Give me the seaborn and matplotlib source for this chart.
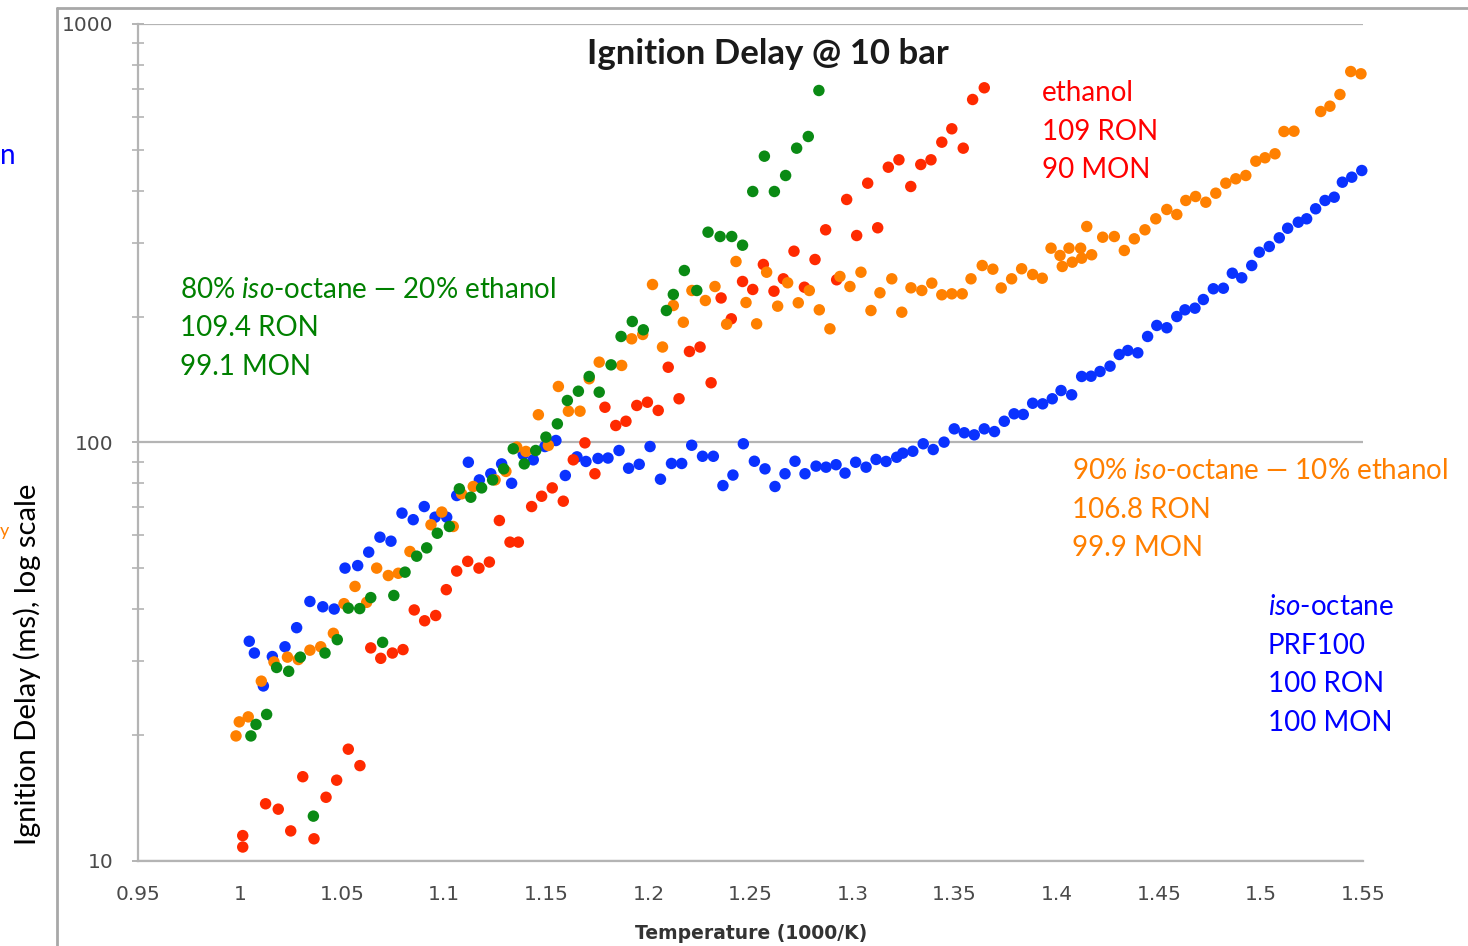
import matplotlib
matplotlib.use('Agg')
import matplotlib.pyplot as plt
import pandas as pd
import seaborn as sns
from matplotlib.lines import Line2D
from matplotlib.ticker import LogLocator, NullFormatter

# iso-octane (PRF100)
iso_temp = [1.0045, 1.007, 1.0114, 1.0158, 1.022, 1.0277, 1.0342, 1.0405, 1.0461, 1.0514,
            1.0576, 1.063, 1.0685, 1.0739, 1.0793, 1.0848, 1.0902, 1.0955, 1.1012, 1.1061,
            1.1118, 1.1172, 1.1228, 1.1281, 1.133, 1.1387, 1.1436, 1.1493, 1.1547, 1.1593,
            1.165, 1.1694, 1.1753, 1.1802, 1.1856, 1.1903, 1.1955, 1.2008, 1.2059, 1.2113,
            1.2163, 1.2212, 1.2265, 1.2318, 1.2365, 1.2414, 1.2465, 1.2519, 1.2571, 1.262,
            1.2669, 1.2718, 1.2767, 1.2821, 1.287, 1.2919, 1.2963, 1.3015, 1.3066, 1.3115,
            1.3164, 1.3216, 1.3246, 1.3295, 1.3346, 1.3395, 1.3448, 1.3498, 1.3547, 1.3596,
            1.3645, 1.3695, 1.3743, 1.3791, 1.3836, 1.3882, 1.3931, 1.3978, 1.4021, 1.4073,
            1.4122, 1.4168, 1.4212, 1.4261, 1.4306, 1.4348, 1.4397, 1.4445, 1.449, 1.4539,
            1.4588, 1.4628, 1.4677, 1.4718, 1.4767, 1.4816, 1.486, 1.4906, 1.4955, 1.4992,
            1.5041, 1.509, 1.5131, 1.5183, 1.5224, 1.5268, 1.5314, 1.5359, 1.5399, 1.5445,
            1.5494]
iso_delay = [33.5, 31.4, 26.2, 30.8, 32.5, 36.1, 41.7, 40.5, 40.0, 50.1,
             50.8, 54.7, 59.4, 58.1, 67.8, 65.4, 70.3, 66.3, 66.3, 74.7,
             89.7, 81.4, 84.2, 88.9, 79.9, 93.6, 90.9, 97.8, 101.1, 83.4,
             92.4, 90.1, 91.6, 91.8, 95.7, 86.8, 88.7, 97.8, 81.7, 89.1,
             89.1, 98.5, 92.7, 92.7, 78.9, 83.6, 99.3, 90.2, 86.5, 78.5,
             84.2, 90.2, 84.2, 87.8, 87.3, 88.5, 84.5, 89.7, 87.3, 91.1,
             90.1, 92.2, 94.3, 95.3, 99.3, 96.2, 100.2, 107.8, 105.5, 104.3,
             107.8, 106.2, 112.4, 117.1, 116.7, 124.1, 123.7, 127.2, 133.1, 130.0,
             143.8, 144.0, 147.8, 152.2, 162.3, 165.9, 163.8, 179.2, 190.4, 188.0,
             200.0, 207.5, 209.4, 219.6, 233.0, 233.7, 253.8, 247.5, 264.8, 284.9,
             294.0, 308.4, 325.1, 336.0, 342.4, 361.8, 378.7, 385.6, 418.8, 430.5,
             446.6]

# ethanol
eth_temp = [1.0013, 1.0013, 1.0125, 1.0187, 1.0248, 1.0307, 1.0362, 1.0421, 1.0473, 1.053,
            1.0587, 1.064, 1.0689, 1.0746, 1.0798, 1.0853, 1.0904, 1.0958, 1.101, 1.1061,
            1.1115, 1.117, 1.1221, 1.127, 1.1322, 1.1363, 1.1428, 1.1477, 1.1529, 1.1583,
            1.1632, 1.1689, 1.1738, 1.1787, 1.184, 1.189, 1.1943, 1.1995, 1.2048, 1.2097,
            1.215, 1.2201, 1.2253, 1.2307, 1.2356, 1.2406, 1.2461, 1.2511, 1.2563, 1.2615,
            1.2661, 1.2713, 1.2764, 1.2816, 1.2868, 1.2922, 1.2971, 1.302, 1.3074, 1.3123,
            1.3175, 1.3227, 1.3285, 1.3334, 1.3384, 1.3437, 1.3486, 1.3542, 1.3588, 1.3645]
eth_delay = [11.5, 10.8, 13.7, 13.3, 11.8, 15.9, 11.3, 14.2, 15.6, 18.5,
             16.9, 32.3, 30.5, 31.4, 32.0, 39.8, 37.5, 38.6, 44.5, 49.3,
             52.0, 50.1, 51.8, 65.1, 57.8, 57.8, 70.3, 74.4, 77.9, 72.4,
             90.9, 99.8, 84.2, 121.4, 109.8, 112.4, 122.6, 124.8, 119.3, 151.3,
             127.2, 165.0, 169.1, 138.9, 221.5, 197.5, 242.5, 232.1, 266.3, 229.9,
             246.1, 286.5, 235.0, 273.7, 322.3, 244.8, 380.8, 312.3, 416.5, 325.9,
             454.8, 473.7, 409.0, 461.6, 473.7, 521.9, 561.8, 505.0, 660.1, 704.0]

# 90% iso-octane - 10% ethanol
e10_temp = [0.998, 0.9996, 1.004, 1.0104, 1.0166, 1.0232, 1.0285, 1.0342, 1.0395, 1.0457,
            1.0509, 1.0563, 1.062, 1.0669, 1.0726, 1.0775, 1.0832, 1.0935, 1.0988, 1.1044,
            1.1085, 1.1142, 1.1249, 1.1302, 1.1355, 1.14, 1.1461, 1.151, 1.1559, 1.1608,
            1.1665, 1.171, 1.1759, 1.1869, 1.1918, 1.1972, 1.202, 1.2069, 1.2122, 1.2171,
            1.2213, 1.2279, 1.2326, 1.2383, 1.2429, 1.2478, 1.253, 1.2579, 1.2633, 1.2682,
            1.2734, 1.2788, 1.2837, 1.2889, 1.2938, 1.2987, 1.3041, 1.309, 1.3134, 1.3192,
            1.3241, 1.3286, 1.3339, 1.3388, 1.3437, 1.3486, 1.3537, 1.358, 1.3635, 1.3687,
            1.3728, 1.3779, 1.3828, 1.3882, 1.3929, 1.3972, 1.4016, 1.4027, 1.406, 1.4076,
            1.4117, 1.4122, 1.4147, 1.4171, 1.4225, 1.4282, 1.4331, 1.438, 1.4432, 1.4485,
            1.4539, 1.4588, 1.4632, 1.468, 1.473, 1.4779, 1.4828, 1.4877, 1.4926, 1.4975,
            1.502, 1.5069, 1.5113, 1.5162, 1.5293, 1.5338, 1.5387, 1.544, 1.549]
e10_delay = [19.9, 21.5, 22.1, 26.9, 29.9, 30.7, 30.3, 31.9, 32.5, 35.0,
             41.2, 45.3, 41.5, 50.1, 48.1, 48.7, 54.9, 63.6, 68.2, 63.0,
             75.4, 78.5, 81.4, 85.3, 97.5, 95.2, 116.5, 98.4, 136.1, 118.8,
             118.8, 142.0, 155.6, 152.8, 176.9, 181.2, 238.5, 169.1, 212.5, 193.8,
             230.8, 218.4, 235.9, 191.7, 270.7, 216.0, 192.1, 255.2, 211.7, 240.8,
             215.7, 230.8, 207.5, 186.9, 249.3, 235.9, 255.2, 206.7, 227.9, 246.1,
             204.8, 234.2, 230.8, 240.3, 225.4, 226.6, 226.6, 246.1, 264.8, 259.5,
             234.0, 246.1, 260.1, 252.0, 246.9, 291.3, 279.8, 263.4, 291.3, 269.7,
             291.3, 275.7, 328.2, 280.9, 309.4, 310.6, 287.6, 306.7, 322.3, 342.4,
             360.4, 350.6, 378.7, 387.1, 375.1, 394.2, 416.5, 426.7, 434.5, 470.1,
             479.0, 489.6, 553.5, 554.4, 617.9, 636.2, 678.5, 769.9, 760.3]

# 80% iso-octane - 20% ethanol
e20_temp = [1.0053, 1.0078, 1.013, 1.0179, 1.0238, 1.0295, 1.0359, 1.0416, 1.0476, 1.053,
            1.0586, 1.064, 1.0698, 1.0753, 1.0808, 1.0865, 1.0914, 1.0966, 1.1025, 1.1074,
            1.113, 1.1183, 1.1237, 1.1291, 1.1338, 1.1392, 1.1448, 1.1498, 1.1554, 1.1603,
            1.1657, 1.171, 1.1759, 1.1817, 1.1866, 1.1921, 1.1975, 1.2088, 1.2122, 1.2176,
            1.2237, 1.2292, 1.2351, 1.2408, 1.2461, 1.2511, 1.2568, 1.2617, 1.2672, 1.2726,
            1.2783, 1.2835]
e20_delay = [19.9, 21.2, 22.4, 29.0, 28.4, 30.7, 12.8, 31.4, 33.8, 40.2,
             40.1, 42.6, 33.3, 43.1, 49.0, 53.5, 56.0, 60.7, 63.0, 77.5,
             74.0, 77.9, 81.4, 86.5, 96.6, 88.9, 95.7, 103.0, 110.8, 126.0,
             132.6, 143.8, 131.9, 153.3, 179.2, 194.6, 185.9, 206.7, 225.8, 257.6,
             230.8, 318.1, 310.6, 310.6, 296.1, 397.9, 483.2, 397.9, 434.5, 505.0,
             538.5, 693.6]

x_ticks = [0.95, 1.0, 1.05, 1.1, 1.15, 1.2, 1.25, 1.3, 1.35, 1.4, 1.45, 1.5, 1.55]
x_tick_labels = ['0.95', '1', '1.05', '1.1', '1.15', '1.2', '1.25', '1.3', '1.35', '1.4',
                 '1.45', '1.5', '1.55']
y_ticks = [10, 100, 1000]
y_tick_labels = ['10', '100', '1000']

fuels = ['iso-octane', 'ethanol', 'E10', 'E20']
colors = {'iso-octane': '#0a32ff', 'ethanol': '#ff2a00', 'E10': '#ff8000', 'E20': '#0a8a14'}

df = pd.concat([
    pd.DataFrame({'temp': iso_temp, 'delay': iso_delay, 'fuel': 'iso-octane'}),
    pd.DataFrame({'temp': eth_temp, 'delay': eth_delay, 'fuel': 'ethanol'}),
    pd.DataFrame({'temp': e10_temp, 'delay': e10_delay, 'fuel': 'E10'}),
    pd.DataFrame({'temp': e20_temp, 'delay': e20_delay, 'fuel': 'E20'}),
], ignore_index=True)

sns.set_theme(style='white')
plt.rcParams['font.family'] = ['DejaVu Sans']
plt.rcParams['mathtext.fontset'] = 'custom'
plt.rcParams['mathtext.rm'] = 'Lato'
plt.rcParams['mathtext.it'] = 'Lato:italic'

W, H = 1468, 946
fig = plt.figure(figsize=(W / 100, H / 100), dpi=100)
ax = fig.add_axes([138 / W, 1 - 861 / H, (1363 - 138) / W, (861 - 24) / H])

sns.scatterplot(data=df, x='temp', y='delay', hue='fuel', hue_order=fuels, palette=colors,
                s=68, linewidth=0, legend=False, ax=ax, zorder=3, clip_on=False)

grid_c = '#b4b4b4'
ax.set_yscale('log')
ax.set_xlim(0.95, 1.55)
ax.set_ylim(10, 1000)
ax.set_xticks(x_ticks)
ax.set_xticklabels(x_tick_labels)
ax.set_yticks(y_ticks)
ax.set_yticklabels(y_tick_labels)
ax.yaxis.set_minor_locator(LogLocator(base=10, subs=range(2, 10)))
ax.yaxis.set_minor_formatter(NullFormatter())
ax.set_xlabel('')
ax.set_ylabel('')
ax.grid(axis='y', which='major', color=grid_c, lw=1.6)
ax.grid(axis='x', visible=False)
for side in ['top', 'right']:
    ax.spines[side].set_visible(False)
for side in ['left', 'bottom']:
    ax.spines[side].set_color(grid_c)
    ax.spines[side].set_linewidth(1.6)
ax.tick_params(axis='x', which='major', direction='inout', length=10, width=1.4,
               color=grid_c, labelsize=14.5, labelcolor='#4a4a4a', pad=12)
ax.tick_params(axis='y', which='major', direction='inout', length=9, width=1.4,
               color=grid_c, labelsize=14.5, labelcolor='#4a4a4a', pad=13, left=True)
ax.tick_params(axis='y', which='minor', direction='inout', length=9, width=1.2,
               color=grid_c, left=True)


def px_text(x, y, s, **kw):
    fig.text(x / W, 1 - y / H, s, **kw)


# chart frame
fig.add_artist(Line2D([57 / W, 57 / W], [0, 1 - 8 / H], color='#a8a8a8', lw=2))
fig.add_artist(Line2D([57 / W, 1], [1 - 8 / H, 1 - 8 / H], color='#a8a8a8', lw=2))

px_text(768, 54, 'Ignition Delay @ 10 bar', fontsize=25, fontweight='bold',
        family='Lato', ha='center', va='center', color='#1a1a1a')
px_text(751, 933, 'Temperature (1000/K)', fontsize=13.5, fontweight='bold',
        ha='center', va='center', color='#333333')
px_text(27, 664, 'Ignition Delay (ms), log scale', fontsize=21, family='Lato',
        rotation=90, ha='center', va='center', color='black')

# fragments of texts that sit beyond the left edge
px_text(0, 164, 'n', fontsize=20, family='Lato', ha='left', va='baseline',
        color='#0000ff')
px_text(0, 536, 'y', fontsize=13, family='Lato', ha='left', va='baseline',
        color='#ff7f00')

ann = dict(fontsize=20, family='Lato', ha='left', va='baseline')
for i, line in enumerate(['ethanol', '109 RON', '90 MON']):
    px_text(1042, 101 + 38.5 * i, line, color='#ff0000', **ann)
for i, line in enumerate(['80% $\\mathit{iso}$-octane \u2014 20% ethanol', '109.4 RON', '99.1 MON']):
    px_text(180, 298 + 38.5 * i, line, color='#008000', **ann)
for i, line in enumerate(['90% $\\mathit{iso}$-octane \u2014 10% ethanol', '106.8 RON', '99.9 MON']):
    px_text(1072, 479 + 38.5 * i, line, color='#ff7f00', **ann)
for i, line in enumerate(['$\\mathit{iso}$-octane', 'PRF100', '100 RON', '100 MON']):
    px_text(1268, 615 + 38.5 * i, line, color='#0000ff', **ann)

fig.savefig('out.png', dpi=100)
